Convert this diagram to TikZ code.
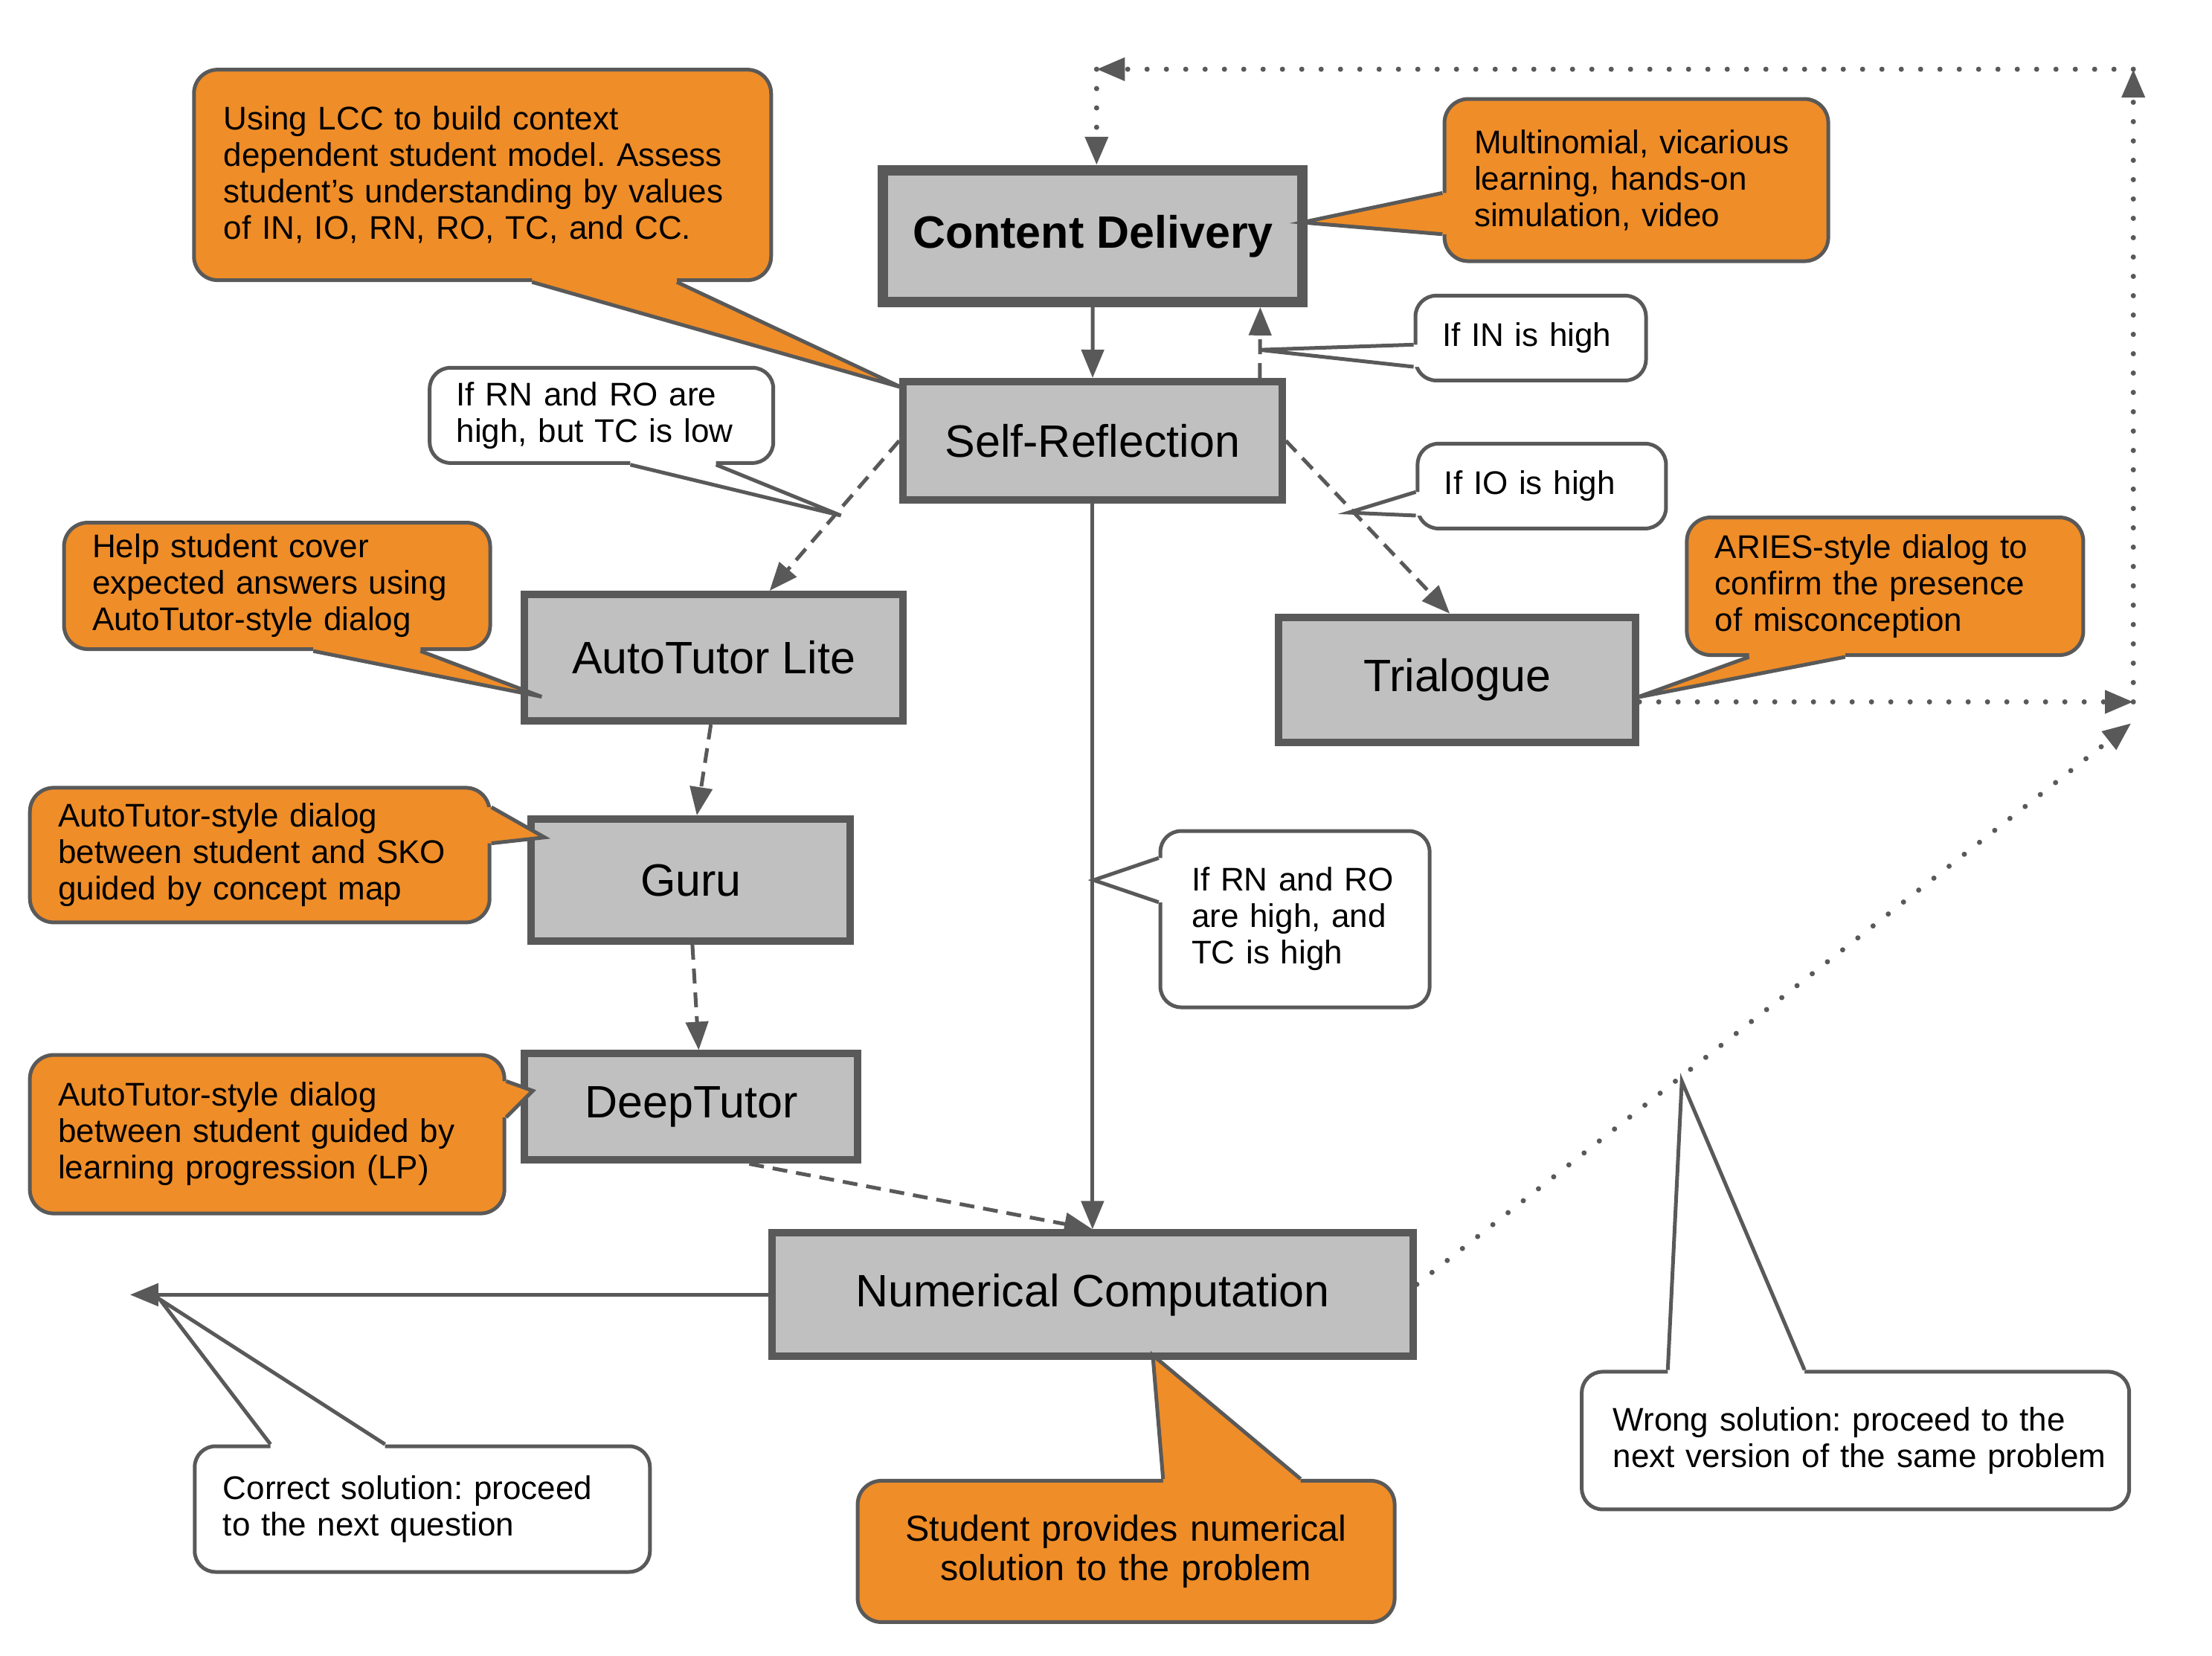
\documentclass[tikz,border=0pt]{standalone}
\usepackage{fontspec}
\setmainfont{Liberation Sans}
\usetikzlibrary{arrows.meta,calc}
\definecolor{org}{HTML}{EF8D28}
\definecolor{boxg}{HTML}{C0C0C0}
\definecolor{lin}{HTML}{595959}
\newcommand\Tline[1]{\mbox{#1}}
\tikzset{
 box/.style={draw=lin, line width=10pt, fill=boxg, font=\fontsize{61}{70}\selectfont, inner sep=0pt},
 callo/.style={draw=lin, line width=5pt, fill=org, rounded corners=32pt, font=\fontsize{44}{49}\selectfont\frenchspacing, align=left, inner xsep=40pt, inner ysep=0pt},
 callw/.style={callo, fill=white, rounded corners=28pt},
 callline/.style={draw=lin, line width=5pt},
 con/.style={draw=lin, line width=5pt, -{Triangle[length=38pt,width=30pt]}},
 dsh/.style={con, dash pattern=on 20pt off 12pt},
 dotl/.style={con, line width=7pt, line cap=round, dash pattern=on 0pt off 26pt},
}
\newcommand\ptr[5]{%
  \fill[#1] ($#2+#5$) -- #2 -- #3 -- #4 -- ($#4+#5$) -- cycle;
  \draw[callline] #2 -- #3 -- #4;}
\begin{document}
\begin{tikzpicture}[x=0.9935pt,y=-0.99pt]
\useasboundingbox (0,0) rectangle (2993.5,2248.5);

% main boxes
\node[box, line width=14pt, font=\fontsize{61}{70}\selectfont\bfseries, minimum width=564pt, minimum height=177pt] (CD) at (1479,320.5) {Content Delivery};
\node[box, minimum width=510pt, minimum height=159pt] (SR) at (1478.5,598.5) {Self-Reflection};
\node[box, minimum width=509pt, minimum height=170pt] (ATL) at (966,893) {AutoTutor Lite};
\node[box, minimum width=480pt, minimum height=168pt] (TRI) at (1972,923) {Trialogue};
\node[box, minimum width=429pt, minimum height=164pt] (GURU) at (935,1195) {Guru};
\node[box, minimum width=448pt, minimum height=143pt] (DT) at (935.5,1503) {DeepTutor};
\node[box, minimum width=862pt, minimum height=166pt] (NC) at (1478.5,1758) {Numerical Computation};

% connectors
\draw[con] (CD) -- (SR);
\draw[dsh] ([xshift=225pt]SR.north) -- ([xshift=225pt]CD.south);
\draw[dsh] (SR.west) -- ([xshift=75pt]ATL.north);
\draw[dsh] (SR.east) -- ([xshift=-10pt]TRI.north);
\draw[con] (SR.south) -- (NC.north);
\draw[dsh] ([xshift=-4pt]ATL.south) -- ([xshift=8pt]GURU.north);
\draw[dsh] ([xshift=2pt]GURU.south) -- ([xshift=10pt]DT.north);
\draw[dsh] ([xshift=78pt]DT.south) -- (NC.north);
\coordinate (L1) at (176,1760);
\draw[con] (NC.west) -- (L1 |- NC.west);
\coordinate (R1) at (2887,953);
\coordinate (R2) at (2887,94);
\coordinate (R3) at (1484,94);
\coordinate (R4) at (2884,982);
\draw[dotl] (TRI.east |- R1) -- (R1);
\draw[dotl] (R1) -- (R2);
\draw[dotl] (R2) -- (R3);
\draw[dotl] (R3) -- (CD.north -| R3);
\draw[dotl] ([yshift=14pt]NC.east) -- (R4);

% orange callouts
\node[callo, text width=696pt, minimum width=776pt, minimum height=283pt] (O1) at (653,237.5)
 {\Tline{Using LCC to build context}\\\Tline{dependent student model. Assess}\\\Tline{student's understanding by values}\\\Tline{of IN, IO, RN, RO, TC, and CC.}};
\ptr{org}{(720,383)}{(1220,526)}{(916,383)}{(0,-10)}
\node[callo, text width=436pt, minimum width=516pt, minimum height=218pt] (O2) at (2214.5,244.5)
 {\Tline{Multinomial, vicarious}\\\Tline{learning, hands-on}\\\Tline{simulation, video}};
\ptr{org}{(1952,262)}{(1762,302)}{(1952,318)}{(10,0)}
\node[callo, inner xsep=38pt, text width=497pt, minimum width=573pt, minimum height=170pt] (O3) at (375,795.5)
 {\Tline{Help student cover}\\\Tline{expected answers using}\\\Tline{AutoTutor-style dialog}};
\ptr{org}{(424,884)}{(733,946)}{(569,884)}{(0,-10)}
\node[callo, inner xsep=38pt, text width=457pt, minimum width=533pt, minimum height=185pt] (O4) at (2551,796)
 {\Tline{ARIES-style dialog to}\\\Tline{confirm the presence}\\\Tline{of misconception}};
\ptr{org}{(2367,892)}{(2215,947)}{(2497,892)}{(0,-10)}
\node[callo, inner xsep=38pt, text width=542pt, minimum width=618pt, minimum height=181pt] (O5) at (351.5,1161)
 {\Tline{AutoTutor-style dialog}\\\Tline{between student and SKO}\\\Tline{guided by concept map}};
\ptr{org}{(665,1096)}{(737,1137)}{(665,1145)}{(-10,0)}
\node[callo, inner xsep=38pt, text width=562pt, minimum width=638pt, minimum height=213pt] (O6) at (361.5,1540)
 {\Tline{AutoTutor-style dialog}\\\Tline{between student guided by}\\\Tline{learning progression (LP)}};
\ptr{org}{(685,1468)}{(721,1481)}{(685,1517)}{(-10,0)}
\node[callo, align=center, font=\fontsize{48.5}{53}\selectfont, text width=642pt, minimum width=722pt, minimum height=190pt] (O7) at (1524,2106.5)
 {\Tline{Student provides numerical}\\\Tline{solution to the problem}};
\ptr{org}{(1574,2008)}{(1560,1840)}{(1760,2008)}{(0,10)}

% white callouts
\node[callw, inner xsep=36pt, text width=390pt, minimum width=462pt, minimum height=128pt] (W1) at (814,564)
 {\Tline{If RN and RO are}\\\Tline{high, but TC is low}};
\ptr{white}{(853,631)}{(1138,700)}{(969,631)}{(0,-10)}
\node[callw, inner xsep=36pt, text width=238pt, minimum width=310pt, minimum height=114pt] (W2) at (2071.5,459)
 {\Tline{If IN is high}};
\ptr{white}{(1913,468)}{(1704,475)}{(1913,498)}{(10,0)}
\node[callw, inner xsep=36pt, text width=262pt, minimum width=334pt, minimum height=114pt] (W3) at (2086.5,660)
 {\Tline{If IO is high}};
\ptr{white}{(1916,668)}{(1825,696)}{(1916,700)}{(10,0)}
\node[callw, inner xsep=42pt, text width=278pt, minimum width=362pt, minimum height=237pt] (W4) at (1752.5,1248)
 {\Tline{If RN and RO}\\\Tline{are high, and}\\\Tline{TC is high}};
\ptr{white}{(1568,1165)}{(1480,1195)}{(1568,1225)}{(10,0)}
\node[callw, inner xsep=38pt, text width=536pt, minimum width=612pt, minimum height=169pt] (W5) at (571.5,2049)
 {\Tline{Correct solution: proceed}\\\Tline{to the next question}};
\ptr{white}{(366,1961)}{(216,1764)}{(521,1961)}{(0,10)}
\node[callw, inner xsep=42pt, text width=652pt, minimum width=736pt, minimum height=185pt] (W6) at (2511,1956)
 {\Tline{Wrong solution: proceed to the}\\\Tline{next version of the same problem}};
\ptr{white}{(2257,1860)}{(2276,1468)}{(2442,1860)}{(0,10)}
\end{tikzpicture}
\end{document}
